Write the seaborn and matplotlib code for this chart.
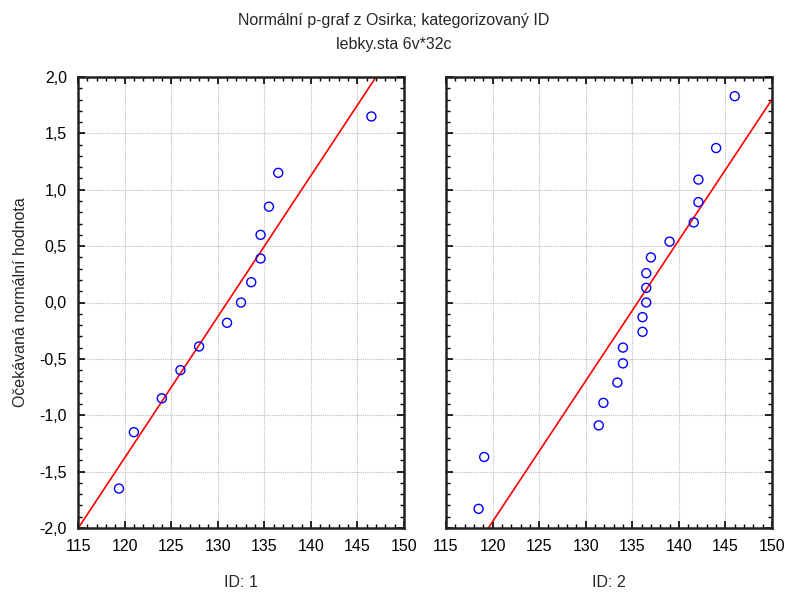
import numpy as np
import pandas as pd
import matplotlib
matplotlib.use("Agg")
import matplotlib.pyplot as plt
from matplotlib.ticker import MultipleLocator, FuncFormatter
import seaborn as sns

# ---- data ----
id1_values = [119.4, 121.0, 124.0, 126.0, 128.0, 131.0, 132.5, 133.6, 134.6, 134.6, 135.5, 136.5, 146.5]
id1_expected = [-1.65, -1.15, -0.85, -0.60, -0.39, -0.18, 0.00, 0.18, 0.39, 0.60, 0.85, 1.15, 1.65]

id2_values = [118.5, 119.1, 131.4, 131.9, 133.4, 134.0, 134.0, 136.1, 136.1, 136.5, 136.5, 136.5,
              137.0, 139.0, 141.6, 142.1, 142.1, 144.0, 146.0]
id2_expected = [-1.83, -1.37, -1.09, -0.89, -0.71, -0.54, -0.40, -0.26, -0.13, 0.00, 0.13, 0.26,
                0.40, 0.54, 0.71, 0.89, 1.09, 1.37, 1.83]

group_labels = ["ID: 1", "ID: 2"]
title_lines = ["Normální p-graf z Osirka; kategorizovaný ID", "lebky.sta 6v*32c"]
y_label = "Očekávaná normální hodnota"

df = pd.concat([
    pd.DataFrame({"ID": group_labels[0], "x": id1_values, "y": id1_expected}),
    pd.DataFrame({"ID": group_labels[1], "x": id2_values, "y": id2_expected}),
])

sns.set_style("ticks")
plt.rcParams["font.family"] = ["Liberation Sans", "DejaVu Sans"]
plt.rcParams["font.size"] = 11

fig = plt.figure(figsize=(7.87, 5.95), dpi=100)
W, H = 787, 595
boxes = [(78, 404), (446, 772)]
top_px, bot_px = 77, 528

comma = FuncFormatter(lambda v, p: f"{v:.1f}".replace(".", ","))
intfmt = FuncFormatter(lambda v, p: f"{v:.0f}")

for i, (lab, (l, r)) in enumerate(zip(group_labels, boxes)):
    ax = fig.add_axes([l / W, 1 - bot_px / H, (r - l) / W, (bot_px - top_px) / H])
    sub = df[df["ID"] == lab]
    ax.set_xlim(115, 150)
    ax.set_ylim(-2.0, 2.0)
    sns.regplot(data=sub, x="x", y="y", ax=ax, ci=None, truncate=False,
                scatter_kws={"facecolors": "none", "edgecolors": "#0000ff", "s": 42,
                             "linewidths": 1.0, "alpha": 1, "zorder": 3},
                line_kws={"color": "#ff0000", "linewidth": 1.2, "zorder": 2})
    ax.set_xlim(115, 150)
    ax.set_ylim(-2.0, 2.0)
    ax.xaxis.set_major_locator(MultipleLocator(5))
    ax.xaxis.set_minor_locator(MultipleLocator(1))
    ax.yaxis.set_major_locator(MultipleLocator(0.5))
    ax.yaxis.set_minor_locator(MultipleLocator(0.1))
    ax.xaxis.set_major_formatter(intfmt)
    ax.yaxis.set_major_formatter(comma)
    ax.grid(True, which="major", color="#bbbbbb", linestyle=(0, (1, 1)), linewidth=0.8)
    ax.tick_params(which="both", direction="in", top=True, right=True, colors="black",
                   labelsize=11.5)
    ax.tick_params(which="major", length=5, width=1.2, pad=8)
    ax.tick_params(which="minor", length=3, width=1.0)
    for s in ax.spines.values():
        s.set_linewidth(1.8)
        s.set_color("#202020")
    ax.set_xlabel(lab, fontsize=11.5, labelpad=15)
    if i == 0:
        ax.set_ylabel(y_label, fontsize=11.5, labelpad=8)
    else:
        ax.set_ylabel("")
        ax.tick_params(labelleft=False)
    ax.set_axisbelow(True)

fig.text(0.5, 1 - 20 / H, title_lines[0], ha="center", va="center", fontsize=11.5)
fig.text(0.5, 1 - 44 / H, title_lines[1], ha="center", va="center", fontsize=11.5)

fig.savefig("out.png", dpi=100)
